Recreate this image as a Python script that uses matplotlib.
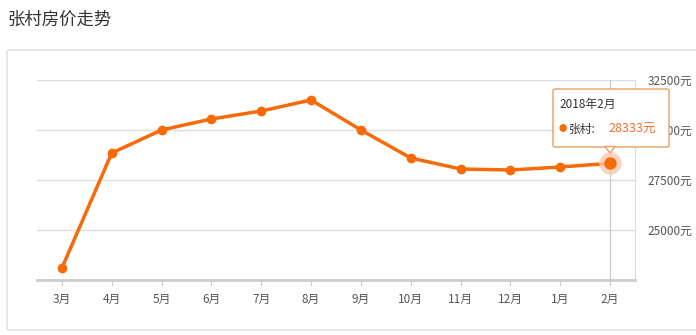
import matplotlib
matplotlib.use('Agg')
from matplotlib import pyplot as plt
from matplotlib.patches import FancyBboxPatch, Polygon

plt.rcParams['font.family'] = ['Noto Sans CJK SC', 'DejaVu Sans']

months = ['3月', '4月', '5月', '6月', '7月', '8月', '9月', '10月', '11月', '12月', '1月', '2月']
prices = [23100, 28850, 30000, 30550, 30950, 31500, 30000, 28600, 28050, 28000, 28150, 28333]
yticks = [25000, 27500, 30000, 32500]
ytick_labels = ['25000元', '27500元', '30000元', '32500元']
title = '张村房价走势'
series_name = '张村'
tip_title = '2018年2月'

W, H = 696, 335
orange = '#f76a08'

fig = plt.figure(figsize=(W / 100, H / 100), dpi=100)

# outer panel
panel = FancyBboxPatch((7 / W, 5 / H), 700 / W, 280 / H, transform=fig.transFigure,
                       boxstyle='round,pad=0,rounding_size=0.006', fc='white', ec='#dddddd', lw=1, zorder=-5)
fig.patches.append(panel)
fig.text(7 / W, 1 - 20 / H, title, fontsize=12.5, color='#333333', va='center', ha='left')

ax = fig.add_axes([37 / W, 1 - 280 / H, (635 - 37) / W, 200 / H], zorder=2)
ax.patch.set_alpha(0)
ax.set_xlim(-0.5, len(months) - 0.5)
ax.set_ylim(22500, 32500)

x = range(len(months))
ax.plot(x, prices, color=orange, lw=2.5, marker='o', ms=6, zorder=3, clip_on=False)

# highlighted last point
ax.axvline(len(months) - 1, color='#cccccc', lw=1, zorder=1)
ax.scatter([len(months) - 1], [prices[-1]], s=260, color='#fbc9b0', alpha=0.8, zorder=4, lw=0, clip_on=False)
ax.scatter([len(months) - 1], [prices[-1]], s=80, color=orange, zorder=5, lw=0, clip_on=False)

ax.set_yticks(yticks)
ax.set_yticklabels(ytick_labels)
ax.yaxis.tick_right()
ax.tick_params(axis='y', length=0, labelsize=8.5, labelcolor='#555555', pad=9)
ax.grid(axis='y', color='#dddddd', lw=1)
ax.set_axisbelow(True)

ax.set_xticks(list(x))
ax.set_xticklabels(months)
ax.tick_params(axis='x', length=4, color='#cccccc', labelsize=8.5, labelcolor='#555555', pad=5)

for s in ['top', 'left']:
    ax.spines[s].set_visible(False)
ax.spines['right'].set_color('#dddddd')
ax.spines['bottom'].set_color('#cccccc')
ax.spines['bottom'].set_linewidth(2)

# tooltip
bx0, by0, bx1, by1 = 553, 89, 669, 147
tip = FancyBboxPatch((bx0 / W, 1 - by1 / H), (bx1 - bx0) / W, (by1 - by0) / H, transform=fig.transFigure,
                     boxstyle='round,pad=0,rounding_size=0.004', fc='white', ec='#e9a063', lw=1, zorder=10)
fig.patches.append(tip)
arrow = Polygon([(605 / W, 1 - 146.5 / H), (610 / W, 1 - 153 / H), (615 / W, 1 - 146.5 / H)],
                closed=True, transform=fig.transFigure, fc='white', ec='#e9a063', lw=1, zorder=11)
fig.patches.append(arrow)
fig.text(559 / W, 1 - 104 / H, tip_title, fontsize=8.5, color='#333333', va='center', ha='left', zorder=12)
fig.text(563 / W, 1 - 129 / H, '●', fontsize=6, color=orange, va='center', ha='center', zorder=12)
fig.text(569 / W, 1 - 129 / H, series_name + ':', fontsize=8.5, color='#333333', va='center', ha='left', zorder=12)
fig.text(608 / W, 1 - 129 / H, f'{prices[-1]}元', fontsize=9, color='#f0702a', va='center', ha='left', zorder=12)

fig.savefig('out.png', dpi=100)
